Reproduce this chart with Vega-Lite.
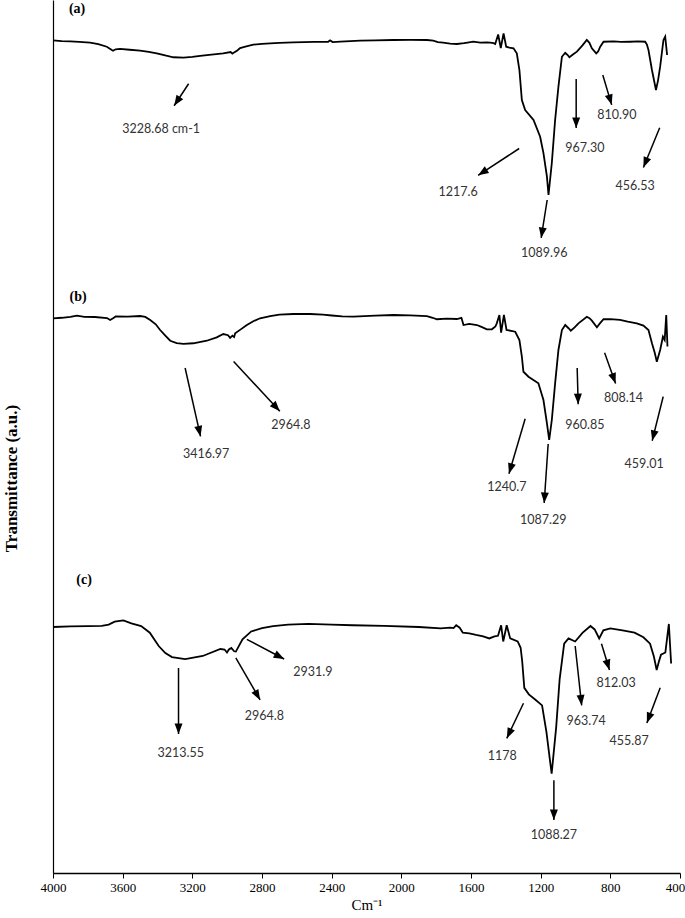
{
  "$schema": "https://vega.github.io/schema/vega-lite/v6.json",
  "width": 627,
  "height": 873,
  "autosize": {"type": "none"},
  "padding": {"left": 53, "top": 0, "right": 5, "bottom": 45},
  "background": "white",
  "config": {"view": {"stroke": null}},
  "datasets": {
    "spectra": [
      {"sample":"a","wavenumber":4000,"transmittance":95.38},{"sample":"a","wavenumber":3950,"transmittance":95.30},{"sample":"a","wavenumber":3900,"transmittance":95.25},{"sample":"a","wavenumber":3850,"transmittance":95.20},{"sample":"a","wavenumber":3787,"transmittance":95.11},{"sample":"a","wavenumber":3740,"transmittance":94.95},{"sample":"a","wavenumber":3691,"transmittance":94.65},{"sample":"a","wavenumber":3660,"transmittance":94.25},{"sample":"a","wavenumber":3655,"transmittance":94.19},{"sample":"a","wavenumber":3640,"transmittance":94.35},{"sample":"a","wavenumber":3615,"transmittance":94.40},{"sample":"a","wavenumber":3560,"transmittance":94.30},{"sample":"a","wavenumber":3500,"transmittance":94.19},{"sample":"a","wavenumber":3450,"transmittance":94.05},{"sample":"a","wavenumber":3404,"transmittance":93.89},{"sample":"a","wavenumber":3350,"transmittance":93.62},{"sample":"a","wavenumber":3309,"transmittance":93.44},{"sample":"a","wavenumber":3251,"transmittance":93.40},{"sample":"a","wavenumber":3200,"transmittance":93.48},{"sample":"a","wavenumber":3155,"transmittance":93.59},{"sample":"a","wavenumber":3090,"transmittance":93.75},{"sample":"a","wavenumber":3023,"transmittance":93.89},{"sample":"a","wavenumber":2980,"transmittance":94.04},{"sample":"a","wavenumber":2970,"transmittance":93.85},{"sample":"a","wavenumber":2960,"transmittance":94.0},{"sample":"a","wavenumber":2940,"transmittance":94.25},{"sample":"a","wavenumber":2926,"transmittance":94.50},{"sample":"a","wavenumber":2890,"transmittance":94.70},{"sample":"a","wavenumber":2850,"transmittance":94.88},{"sample":"a","wavenumber":2800,"transmittance":94.98},{"sample":"a","wavenumber":2753,"transmittance":95.04},{"sample":"a","wavenumber":2700,"transmittance":95.10},{"sample":"a","wavenumber":2621,"transmittance":95.15},{"sample":"a","wavenumber":2500,"transmittance":95.20},{"sample":"a","wavenumber":2420,"transmittance":95.21},{"sample":"a","wavenumber":2409,"transmittance":95.38},{"sample":"a","wavenumber":2395,"transmittance":95.18},{"sample":"a","wavenumber":2350,"transmittance":95.24},{"sample":"a","wavenumber":2236,"transmittance":95.34},{"sample":"a","wavenumber":2150,"transmittance":95.38},{"sample":"a","wavenumber":2047,"transmittance":95.42},{"sample":"a","wavenumber":1950,"transmittance":95.43},{"sample":"a","wavenumber":1853,"transmittance":95.42},{"sample":"a","wavenumber":1817,"transmittance":95.34},{"sample":"a","wavenumber":1790,"transmittance":95.18},{"sample":"a","wavenumber":1760,"transmittance":95.11},{"sample":"a","wavenumber":1720,"transmittance":95.0},{"sample":"a","wavenumber":1681,"transmittance":94.96},{"sample":"a","wavenumber":1640,"transmittance":95.05},{"sample":"a","wavenumber":1620,"transmittance":95.13},{"sample":"a","wavenumber":1587,"transmittance":95.23},{"sample":"a","wavenumber":1547,"transmittance":95.11},{"sample":"a","wavenumber":1510,"transmittance":95.15},{"sample":"a","wavenumber":1490,"transmittance":95.11},{"sample":"a","wavenumber":1470,"transmittance":95.05},{"sample":"a","wavenumber":1461,"transmittance":94.96},{"sample":"a","wavenumber":1444,"transmittance":96.05},{"sample":"a","wavenumber":1429,"transmittance":94.50},{"sample":"a","wavenumber":1413,"transmittance":96.17},{"sample":"a","wavenumber":1398,"transmittance":94.65},{"sample":"a","wavenumber":1380,"transmittance":94.55},{"sample":"a","wavenumber":1356,"transmittance":94.47},{"sample":"a","wavenumber":1337,"transmittance":93.89},{"sample":"a","wavenumber":1322,"transmittance":91.98},{"sample":"a","wavenumber":1308,"transmittance":88.55},{"sample":"a","wavenumber":1289,"transmittance":87.40},{"sample":"a","wavenumber":1241,"transmittance":86.25},{"sample":"a","wavenumber":1203,"transmittance":84.34},{"sample":"a","wavenumber":1184,"transmittance":82.47},{"sample":"a","wavenumber":1164,"transmittance":79.76},{"sample":"a","wavenumber":1155,"transmittance":77.66},{"sample":"a","wavenumber":1136,"transmittance":81.33},{"sample":"a","wavenumber":1117,"transmittance":86.25},{"sample":"a","wavenumber":1098,"transmittance":90.07},{"sample":"a","wavenumber":1078,"transmittance":93.50},{"sample":"a","wavenumber":1059,"transmittance":93.96},{"sample":"a","wavenumber":1045,"transmittance":93.70},{"sample":"a","wavenumber":1035,"transmittance":93.44},{"sample":"a","wavenumber":1015,"transmittance":93.75},{"sample":"a","wavenumber":992,"transmittance":94.08},{"sample":"a","wavenumber":960,"transmittance":94.8},{"sample":"a","wavenumber":935,"transmittance":95.42},{"sample":"a","wavenumber":920,"transmittance":95.1},{"sample":"a","wavenumber":906,"transmittance":94.47},{"sample":"a","wavenumber":881,"transmittance":93.89},{"sample":"a","wavenumber":870,"transmittance":94.1},{"sample":"a","wavenumber":858,"transmittance":94.65},{"sample":"a","wavenumber":839,"transmittance":95.22},{"sample":"a","wavenumber":780,"transmittance":95.25},{"sample":"a","wavenumber":740,"transmittance":95.2},{"sample":"a","wavenumber":686,"transmittance":95.22},{"sample":"a","wavenumber":640,"transmittance":95.25},{"sample":"a","wavenumber":600,"transmittance":95.22},{"sample":"a","wavenumber":590,"transmittance":94.9},{"sample":"a","wavenumber":581,"transmittance":94.27},{"sample":"a","wavenumber":561,"transmittance":91.98},{"sample":"a","wavenumber":538,"transmittance":89.69},{"sample":"a","wavenumber":526,"transmittance":90.8},{"sample":"a","wavenumber":514,"transmittance":92.36},{"sample":"a","wavenumber":495,"transmittance":95.42},{"sample":"a","wavenumber":485,"transmittance":95.80},{"sample":"a","wavenumber":474,"transmittance":93.70},

      {"sample":"b","wavenumber":4000,"transmittance":63.54},{"sample":"b","wavenumber":3950,"transmittance":63.60},{"sample":"b","wavenumber":3900,"transmittance":63.70},{"sample":"b","wavenumber":3863,"transmittance":63.84},{"sample":"b","wavenumber":3820,"transmittance":63.70},{"sample":"b","wavenumber":3760,"transmittance":63.69},{"sample":"b","wavenumber":3690,"transmittance":63.57},{"sample":"b","wavenumber":3672,"transmittance":63.35},{"sample":"b","wavenumber":3655,"transmittance":63.55},{"sample":"b","wavenumber":3640,"transmittance":63.75},{"sample":"b","wavenumber":3570,"transmittance":63.72},{"sample":"b","wavenumber":3500,"transmittance":63.80},{"sample":"b","wavenumber":3470,"transmittance":63.70},{"sample":"b","wavenumber":3442,"transmittance":63.34},{"sample":"b","wavenumber":3410,"transmittance":62.85},{"sample":"b","wavenumber":3385,"transmittance":62.20},{"sample":"b","wavenumber":3355,"transmittance":61.55},{"sample":"b","wavenumber":3327,"transmittance":60.97},{"sample":"b","wavenumber":3290,"transmittance":60.70},{"sample":"b","wavenumber":3251,"transmittance":60.60},{"sample":"b","wavenumber":3194,"transmittance":60.68},{"sample":"b","wavenumber":3117,"transmittance":60.97},{"sample":"b","wavenumber":3060,"transmittance":61.35},{"sample":"b","wavenumber":3022,"transmittance":61.74},{"sample":"b","wavenumber":2995,"transmittance":61.60},{"sample":"b","wavenumber":2983,"transmittance":61.30},{"sample":"b","wavenumber":2970,"transmittance":61.55},{"sample":"b","wavenumber":2960,"transmittance":61.40},{"sample":"b","wavenumber":2954,"transmittance":61.82},{"sample":"b","wavenumber":2920,"transmittance":62.30},{"sample":"b","wavenumber":2887,"transmittance":62.77},{"sample":"b","wavenumber":2850,"transmittance":63.20},{"sample":"b","wavenumber":2811,"transmittance":63.54},{"sample":"b","wavenumber":2753,"transmittance":63.80},{"sample":"b","wavenumber":2700,"transmittance":63.95},{"sample":"b","wavenumber":2620,"transmittance":64.03},{"sample":"b","wavenumber":2524,"transmittance":64.03},{"sample":"b","wavenumber":2450,"transmittance":63.95},{"sample":"b","wavenumber":2400,"transmittance":63.86},{"sample":"b","wavenumber":2340,"transmittance":63.75},{"sample":"b","wavenumber":2275,"transmittance":63.72},{"sample":"b","wavenumber":2150,"transmittance":63.85},{"sample":"b","wavenumber":2045,"transmittance":63.92},{"sample":"b","wavenumber":1950,"transmittance":63.88},{"sample":"b","wavenumber":1853,"transmittance":63.80},{"sample":"b","wavenumber":1820,"transmittance":63.60},{"sample":"b","wavenumber":1796,"transmittance":63.43},{"sample":"b","wavenumber":1740,"transmittance":63.50},{"sample":"b","wavenumber":1681,"transmittance":63.46},{"sample":"b","wavenumber":1655,"transmittance":63.60},{"sample":"b","wavenumber":1643,"transmittance":62.77},{"sample":"b","wavenumber":1610,"transmittance":62.90},{"sample":"b","wavenumber":1566,"transmittance":62.77},{"sample":"b","wavenumber":1540,"transmittance":62.55},{"sample":"b","wavenumber":1509,"transmittance":62.28},{"sample":"b","wavenumber":1480,"transmittance":62.28},{"sample":"b","wavenumber":1460,"transmittance":62.60},{"sample":"b","wavenumber":1452,"transmittance":62.96},{"sample":"b","wavenumber":1437,"transmittance":63.92},{"sample":"b","wavenumber":1427,"transmittance":61.89},{"sample":"b","wavenumber":1411,"transmittance":63.92},{"sample":"b","wavenumber":1396,"transmittance":62.20},{"sample":"b","wavenumber":1346,"transmittance":62.00},{"sample":"b","wavenumber":1322,"transmittance":61.05},{"sample":"b","wavenumber":1308,"transmittance":59.14},{"sample":"b","wavenumber":1299,"transmittance":57.42},{"sample":"b","wavenumber":1270,"transmittance":56.85},{"sample":"b","wavenumber":1213,"transmittance":56.09},{"sample":"b","wavenumber":1184,"transmittance":54.18},{"sample":"b","wavenumber":1164,"transmittance":51.51},{"sample":"b","wavenumber":1151,"transmittance":49.60},{"sample":"b","wavenumber":1136,"transmittance":51.89},{"sample":"b","wavenumber":1117,"transmittance":56.09},{"sample":"b","wavenumber":1098,"transmittance":59.91},{"sample":"b","wavenumber":1078,"transmittance":62.20},{"sample":"b","wavenumber":1059,"transmittance":62.77},{"sample":"b","wavenumber":1040,"transmittance":62.40},{"sample":"b","wavenumber":1027,"transmittance":62.12},{"sample":"b","wavenumber":1005,"transmittance":62.50},{"sample":"b","wavenumber":983,"transmittance":62.96},{"sample":"b","wavenumber":935,"transmittance":63.72},{"sample":"b","wavenumber":920,"transmittance":63.55},{"sample":"b","wavenumber":906,"transmittance":63.27},{"sample":"b","wavenumber":877,"transmittance":62.51},{"sample":"b","wavenumber":860,"transmittance":62.95},{"sample":"b","wavenumber":839,"transmittance":63.43},{"sample":"b","wavenumber":800,"transmittance":63.45},{"sample":"b","wavenumber":744,"transmittance":63.35},{"sample":"b","wavenumber":700,"transmittance":63.15},{"sample":"b","wavenumber":648,"transmittance":62.96},{"sample":"b","wavenumber":610,"transmittance":62.70},{"sample":"b","wavenumber":581,"transmittance":62.20},{"sample":"b","wavenumber":561,"transmittance":60.68},{"sample":"b","wavenumber":545,"transmittance":59.60},{"sample":"b","wavenumber":533,"transmittance":58.57},{"sample":"b","wavenumber":514,"transmittance":59.91},{"sample":"b","wavenumber":498,"transmittance":61.43},{"sample":"b","wavenumber":488,"transmittance":61.05},{"sample":"b","wavenumber":479,"transmittance":63.92},{"sample":"b","wavenumber":472,"transmittance":60.30},

      {"sample":"c","wavenumber":4000,"transmittance":28.18},{"sample":"c","wavenumber":3900,"transmittance":28.25},{"sample":"c","wavenumber":3798,"transmittance":28.29},{"sample":"c","wavenumber":3720,"transmittance":28.30},{"sample":"c","wavenumber":3680,"transmittance":28.45},{"sample":"c","wavenumber":3646,"transmittance":28.79},{"sample":"c","wavenumber":3596,"transmittance":28.94},{"sample":"c","wavenumber":3550,"transmittance":28.60},{"sample":"c","wavenumber":3494,"transmittance":28.29},{"sample":"c","wavenumber":3444,"transmittance":27.53},{"sample":"c","wavenumber":3420,"transmittance":26.80},{"sample":"c","wavenumber":3393,"transmittance":26.00},{"sample":"c","wavenumber":3355,"transmittance":25.20},{"sample":"c","wavenumber":3317,"transmittance":24.74},{"sample":"c","wavenumber":3241,"transmittance":24.51},{"sample":"c","wavenumber":3140,"transmittance":24.86},{"sample":"c","wavenumber":3039,"transmittance":25.66},{"sample":"c","wavenumber":3015,"transmittance":25.60},{"sample":"c","wavenumber":3001,"transmittance":25.26},{"sample":"c","wavenumber":2990,"transmittance":25.60},{"sample":"c","wavenumber":2976,"transmittance":25.77},{"sample":"c","wavenumber":2960,"transmittance":25.40},{"sample":"c","wavenumber":2950,"transmittance":25.36},{"sample":"c","wavenumber":2930,"transmittance":26.10},{"sample":"c","wavenumber":2912,"transmittance":26.77},{"sample":"c","wavenumber":2862,"transmittance":27.67},{"sample":"c","wavenumber":2800,"transmittance":28.05},{"sample":"c","wavenumber":2736,"transmittance":28.29},{"sample":"c","wavenumber":2650,"transmittance":28.45},{"sample":"c","wavenumber":2533,"transmittance":28.53},{"sample":"c","wavenumber":2400,"transmittance":28.45},{"sample":"c","wavenumber":2280,"transmittance":28.38},{"sample":"c","wavenumber":2100,"transmittance":28.30},{"sample":"c","wavenumber":1900,"transmittance":28.18},{"sample":"c","wavenumber":1774,"transmittance":28.03},{"sample":"c","wavenumber":1720,"transmittance":28.10},{"sample":"c","wavenumber":1700,"transmittance":28.05},{"sample":"c","wavenumber":1685,"transmittance":28.38},{"sample":"c","wavenumber":1665,"transmittance":28.10},{"sample":"c","wavenumber":1647,"transmittance":27.53},{"sample":"c","wavenumber":1610,"transmittance":27.45},{"sample":"c","wavenumber":1571,"transmittance":27.27},{"sample":"c","wavenumber":1530,"transmittance":27.10},{"sample":"c","wavenumber":1495,"transmittance":26.87},{"sample":"c","wavenumber":1465,"transmittance":27.10},{"sample":"c","wavenumber":1445,"transmittance":27.17},{"sample":"c","wavenumber":1427,"transmittance":28.38},{"sample":"c","wavenumber":1415,"transmittance":26.52},{"sample":"c","wavenumber":1395,"transmittance":28.38},{"sample":"c","wavenumber":1375,"transmittance":26.87},{"sample":"c","wavenumber":1332,"transmittance":26.52},{"sample":"c","wavenumber":1315,"transmittance":25.80},{"sample":"c","wavenumber":1306,"transmittance":24.25},{"sample":"c","wavenumber":1294,"transmittance":21.21},{"sample":"c","wavenumber":1268,"transmittance":20.46},{"sample":"c","wavenumber":1230,"transmittance":19.85},{"sample":"c","wavenumber":1192,"transmittance":19.20},{"sample":"c","wavenumber":1167,"transmittance":16.17},{"sample":"c","wavenumber":1137,"transmittance":11.37},{"sample":"c","wavenumber":1111,"transmittance":16.68},{"sample":"c","wavenumber":1091,"transmittance":22.22},{"sample":"c","wavenumber":1065,"transmittance":26.27},{"sample":"c","wavenumber":1040,"transmittance":26.87},{"sample":"c","wavenumber":1002,"transmittance":26.52},{"sample":"c","wavenumber":960,"transmittance":27.50},{"sample":"c","wavenumber":914,"transmittance":28.29},{"sample":"c","wavenumber":890,"transmittance":27.90},{"sample":"c","wavenumber":864,"transmittance":26.87},{"sample":"c","wavenumber":840,"transmittance":27.80},{"sample":"c","wavenumber":800,"transmittance":28.03},{"sample":"c","wavenumber":730,"transmittance":27.80},{"sample":"c","wavenumber":661,"transmittance":27.53},{"sample":"c","wavenumber":610,"transmittance":27.00},{"sample":"c","wavenumber":572,"transmittance":26.27},{"sample":"c","wavenumber":550,"transmittance":24.80},{"sample":"c","wavenumber":534,"transmittance":23.25},{"sample":"c","wavenumber":520,"transmittance":24.30},{"sample":"c","wavenumber":509,"transmittance":25.01},{"sample":"c","wavenumber":484,"transmittance":25.26},{"sample":"c","wavenumber":464,"transmittance":28.53},{"sample":"c","wavenumber":451,"transmittance":24.00}
    ],
    "arrows": [
      {"x1":3221.3,"y1":90.41,"x2":3304.6,"y2":87.89,"angle":213.4},
      {"x1":1323.4,"y1":82.99,"x2":1558.9,"y2":79.92,"angle":236.8},
      {"x1":1162.6,"y1":77.09,"x2":1197.1,"y2":72.74,"angle":189},
      {"x1":996.1,"y1":90.95,"x2":996.1,"y2":85.34,"angle":180},
      {"x1":843.3,"y1":91.41,"x2":792.2,"y2":87.99,"angle":163.4},
      {"x1":516.6,"y1":85.36,"x2":610.2,"y2":80.82,"angle":202.4},
      {"x1":3241.4,"y1":57.85,"x2":3153,"y2":50.01,"angle":167.3},
      {"x1":2962.9,"y1":58.59,"x2":2697.6,"y2":52.89,"angle":137.2},
      {"x1":1289,"y1":52.03,"x2":1382,"y2":45.73,"angle":196.4},
      {"x1":1156.9,"y1":49.14,"x2":1179.8,"y2":42.38,"angle":183.9},
      {"x1":990.4,"y1":57.85,"x2":984.6,"y2":53.70,"angle":178.4},
      {"x1":833,"y1":59.60,"x2":769.8,"y2":56.07,"angle":160.3},
      {"x1":496.5,"y1":54.56,"x2":559.7,"y2":49.51,"angle":194},
      {"x1":3279.3,"y1":23.48,"x2":3279.3,"y2":15.92,"angle":180},
      {"x1":2950.3,"y1":24.65,"x2":2810.7,"y2":19.82,"angle":150.1},
      {"x1":2887.1,"y1":26.77,"x2":2672.9,"y2":24.51,"angle":117.8},
      {"x1":1298.7,"y1":19.45,"x2":1394.6,"y2":15.42,"angle":205.4},
      {"x1":1124.1,"y1":10.62,"x2":1124.1,"y2":6.07,"angle":180},
      {"x1":1001.8,"y1":26.0,"x2":964.5,"y2":19.20,"angle":173.8},
      {"x1":850.8,"y1":26.27,"x2":804.9,"y2":23.25,"angle":163.1},
      {"x1":513.7,"y1":21.21,"x2":590.1,"y2":17.18,"angle":200.7}
    ],
    "labels": [
      {"label":"3228.68 cm-1","x":3379.2,"y":85.27},
      {"label":"1217.6","x":1673.7,"y":78.05},
      {"label":"1089.96","x":1179.8,"y":71.02},
      {"label":"967.30","x":946.7,"y":82.99},
      {"label":"810.90","x":762.4,"y":86.78},
      {"label":"456.53","x":657.3,"y":78.69},
      {"label":"3416.97","x":3120.8,"y":48.0},
      {"label":"2964.8","x":2634.4,"y":51.27},
      {"label":"1240.7","x":1394.6,"y":44.22},
      {"label":"1087.29","x":1185.6,"y":40.44},
      {"label":"960.85","x":946.7,"y":51.27},
      {"label":"808.14","x":724.5,"y":54.41},
      {"label":"459.01","x":605.6,"y":46.85},
      {"label":"3213.55","x":3266.7,"y":13.75},
      {"label":"2964.8","x":2786,"y":17.94},
      {"label":"2931.9","x":2507.5,"y":22.99},
      {"label":"1178","x":1419.9,"y":13.40},
      {"label":"1088.27","x":1124.1,"y":4.32},
      {"label":"963.74","x":939.3,"y":17.43},
      {"label":"812.03","x":766.9,"y":21.73},
      {"label":"455.87","x":691.7,"y":15.17}
    ],
    "panels": [
      {"panel":"(a)","x":3861.6,"y":98.97},
      {"panel":"(b)","x":3855.9,"y":65.98},
      {"panel":"(c)","x":3821.4,"y":33.56}
    ]
  },
  "layer": [
    {
      "data": {"name": "spectra"},
      "mark": {"type": "line", "color": "black", "strokeWidth": 1.8},
      "encoding": {
        "x": {
          "field": "wavenumber", "type": "quantitative",
          "scale": {"domain": [400, 4000], "reverse": true, "nice": false, "zero": false},
          "axis": {
            "title": "Cm⁻¹", "values": [4000,3600,3200,2800,2400,2000,1600,1200,800,400],
            "format": "d", "grid": false,
            "labelFont": "Liberation Serif", "labelFontSize": 13, "labelColor": "black", "labelPadding": 3,
            "labelOffset": {"condition": {"test": "datum.value == 400", "value": -5}, "value": 0},
            "tickColor": "black", "tickSize": 5, "domainColor": "black", "domainWidth": 1.5,
            "labelFlush": false, "labelOverlap": false,
            "titleFont": "Liberation Serif", "titleFontSize": 15, "titleFontWeight": "normal", "titleColor": "black", "titlePadding": 3
          }
        },
        "y": {
          "field": "transmittance", "type": "quantitative",
          "scale": {"domain": [0, 100], "nice": false, "zero": false},
          "axis": {
            "title": "Transmittance (a.u.)", "labels": false, "ticks": false, "grid": false,
            "domainColor": "black", "domainWidth": 1.2,
            "titleFont": "Liberation Serif", "titleFontSize": 17, "titleFontWeight": "bold", "titleColor": "black",
            "titleAngle": 270, "titleX": -42, "titleY": 478, "titleAlign": "center", "titleBaseline": "middle"
          }
        },
        "detail": {"field": "sample"}
      }
    },
    {
      "mark": {"type": "rule", "color": "#777777", "strokeWidth": 1.2},
      "encoding": {"x": {"datum": 400}}
    },
    {
      "data": {"name": "arrows"},
      "mark": {"type": "rule", "color": "black", "strokeWidth": 1.5},
      "encoding": {
        "x": {"field": "x1", "type": "quantitative"},
        "y": {"field": "y1", "type": "quantitative"},
        "x2": {"field": "x2"},
        "y2": {"field": "y2"}
      }
    },
    {
      "data": {"name": "arrows"},
      "mark": {"type": "point", "shape": "M0,0L-0.38,1L0.38,1Z", "filled": true, "color": "black", "opacity": 1, "size": 440, "strokeWidth": 0},
      "encoding": {
        "x": {"field": "x2", "type": "quantitative"},
        "y": {"field": "y2", "type": "quantitative"},
        "angle": {"field": "angle", "type": "quantitative", "scale": null}
      }
    },
    {
      "data": {"name": "labels"},
      "mark": {"type": "text", "font": "Lato", "fontSize": 12.5, "color": "#333333", "align": "center", "baseline": "middle"},
      "encoding": {
        "x": {"field": "x", "type": "quantitative"},
        "y": {"field": "y", "type": "quantitative"},
        "text": {"field": "label"}
      }
    },
    {
      "data": {"name": "panels"},
      "mark": {"type": "text", "font": "Liberation Serif", "fontSize": 14, "fontWeight": "bold", "color": "black", "align": "center", "baseline": "middle"},
      "encoding": {
        "x": {"field": "x", "type": "quantitative"},
        "y": {"field": "y", "type": "quantitative"},
        "text": {"field": "panel"}
      }
    }
  ]
}
